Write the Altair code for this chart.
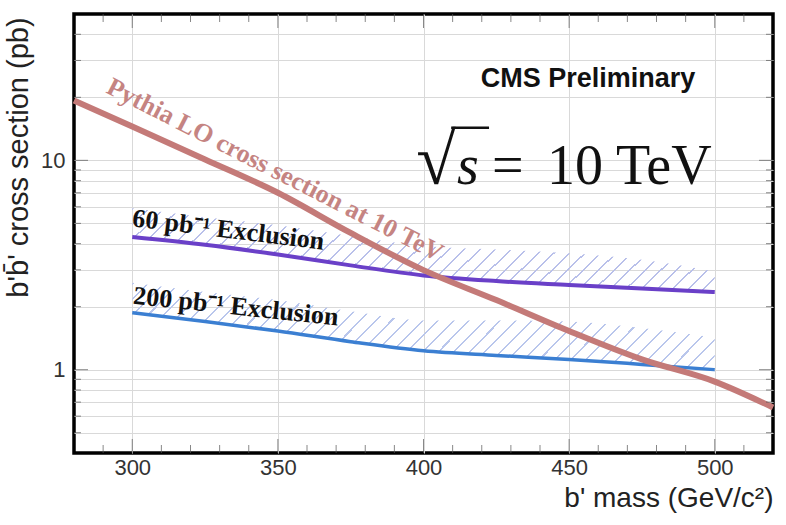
import altair as alt
import pandas as pd

# ---------------- data ----------------
mass_pythia = [280, 300, 325, 350, 375, 400, 425, 450, 475, 500, 520]
xsec_pythia = [19.3, 14.5, 10.1, 7.0, 4.5, 2.99, 2.15, 1.53, 1.12, 0.877, 0.66]

mass_excl = [300, 325, 350, 375, 400, 425, 450, 475, 500]
xsec_60 = [4.3, 3.95, 3.55, 3.15, 2.82, 2.65, 2.54, 2.44, 2.35]
hatch_top_60 = [5.9, 5.35, 4.9, 4.35, 3.9, 3.75, 3.6, 3.35, 2.95]
xsec_200 = [1.87, 1.70, 1.53, 1.36, 1.23, 1.17, 1.12, 1.06, 1.0]
hatch_top_200 = [2.6, 2.35, 2.15, 1.9, 1.72, 1.72, 1.70, 1.58, 1.42]

x_major = [300, 350, 400, 450, 500]
x_minor = [290, 310, 320, 330, 340, 360, 370, 380, 390, 410, 420, 430, 440,
           460, 470, 480, 490, 510]
y_major = [1, 10]
y_minor = [0.5, 0.6, 0.7, 0.8, 0.9, 2, 3, 4, 5, 6, 7, 8, 9, 20, 30, 40]
y_grid = [0.5, 0.6, 0.7, 0.8, 0.9, 1, 2, 3, 4, 5, 6, 7, 8, 9, 10, 20, 30, 40]

# annotation texts
label_pythia = "Pythia LO cross section at 10 TeV"
label_60 = "60 pb⁻¹ Exclusion"
label_200 = "200 pb⁻¹ Exclusion"
label_cms = "CMS Preliminary"
y_title = "b'b\u0304' cross section (pb)"
x_title = "b' mass (GeV/c²)"

W, H = 699, 439
SANS = "Liberation Sans"
SERIF = "Liberation Serif"

xscale = alt.Scale(domain=[280, 520], nice=False, zero=False)
yscale = alt.Scale(type="log", domain=[0.4, 50], nice=False)

xaxis = alt.Axis(values=x_major, format="d", grid=True, gridColor="#d9d9d9",
                 gridWidth=1, tickSize=0, domain=False,
                 labelFont=SANS, labelFontSize=22, labelColor="#333",
                 labelPadding=4, title=x_title, titleFont=SANS,
                 titleFontSize=28, titleFontWeight="normal", titleColor="#222",
                 titleAnchor="end", titlePadding=6)
yaxis = alt.Axis(values=y_grid,
                 labelExpr="datum.value == 1 ? '1' : (datum.value == 10 ? '10' : '')",
                 grid=True, gridColor="#d9d9d9", gridWidth=1, tickSize=0,
                 domain=False, labelFont=SANS, labelFontSize=22,
                 labelColor="#333", labelPadding=9, title=y_title,
                 titleFont=SANS, titleFontSize=29, titleFontWeight="normal",
                 titleColor="#222", titleX=-56, titleY=143, titleAngle=270,
                 titleAlign="center", titleBaseline="middle")


def X(field="mass"):
    return alt.X(f"{field}:Q", scale=xscale, axis=xaxis, title=x_title)


def Y(field="xsec"):
    return alt.Y(f"{field}:Q", scale=yscale, axis=yaxis, title=y_title)


def hatch(color, n=44, delta=0.003):
    clear = "rgba(255,255,255,0)"
    stops = []
    for i in range(n):
        t = i / n
        stops += [alt.GradientStop(offset=t, color=clear),
                  alt.GradientStop(offset=t, color=color),
                  alt.GradientStop(offset=t + delta, color=color),
                  alt.GradientStop(offset=t + delta, color=clear)]
    return alt.LinearGradient(gradient="linear", stops=stops,
                              x1=0, y1=0, x2=1.15, y2=0.17)


df_py = pd.DataFrame({"mass": mass_pythia, "xsec": xsec_pythia})
df_ex = pd.DataFrame({"mass": mass_excl, "x60": xsec_60, "t60": hatch_top_60,
                      "x200": xsec_200, "t200": hatch_top_200})

hatch60 = alt.Chart(df_ex).mark_area(fill=hatch("#b9c0ea"), interpolate="monotone").encode(
    x=X(), y=Y("x60"), y2="t60")
hatch200 = alt.Chart(df_ex).mark_area(fill=hatch("#b9c6ec"), interpolate="monotone").encode(
    x=X(), y=Y("x200"), y2="t200")

line60 = alt.Chart(df_ex).mark_line(color="#6a40c8", strokeWidth=4,
                                    interpolate="monotone").encode(
    x=X(), y=Y("x60"))
line200 = alt.Chart(df_ex).mark_line(color="#3b7fd2", strokeWidth=3.5,
                                     interpolate="monotone").encode(
    x=X(), y=Y("x200"))
pythia = alt.Chart(df_py).mark_line(color="#c47a78", strokeWidth=6,
                                    interpolate="monotone").encode(
    x=X(), y=Y())

# tick marks (inside the frame)
df_xmaj = pd.DataFrame({"mass": x_major})
df_xmin = pd.DataFrame({"mass": x_minor})
df_ymaj = pd.DataFrame({"xsec": y_major})
df_ymin = pd.DataFrame({"xsec": y_minor})
tcol = "#555"
ticks = [
    alt.Chart(df_xmin).mark_tick(orient="vertical", size=8, thickness=1, color=tcol)
    .encode(x=X(), y=alt.value(H - 4)),
    alt.Chart(df_xmaj).mark_tick(orient="vertical", size=14, thickness=1, color=tcol)
    .encode(x=X(), y=alt.value(H - 7)),
    alt.Chart(df_xmin).mark_tick(orient="vertical", size=8, thickness=1, color=tcol)
    .encode(x=X(), y=alt.value(4)),
    alt.Chart(df_xmaj).mark_tick(orient="vertical", size=14, thickness=1, color=tcol)
    .encode(x=X(), y=alt.value(7)),
    alt.Chart(df_ymin).mark_tick(orient="horizontal", size=7, thickness=1, color=tcol)
    .encode(y=Y(), x=alt.value(3.5)),
    alt.Chart(df_ymaj).mark_tick(orient="horizontal", size=14, thickness=1, color=tcol)
    .encode(y=Y(), x=alt.value(7)),
    alt.Chart(df_ymin).mark_tick(orient="horizontal", size=7, thickness=1, color=tcol)
    .encode(y=Y(), x=alt.value(W - 3.5)),
    alt.Chart(df_ymaj).mark_tick(orient="horizontal", size=14, thickness=1, color=tcol)
    .encode(y=Y(), x=alt.value(W - 7)),
]


def text(label, mass, xsec, **kw):
    df = pd.DataFrame({"mass": [mass], "xsec": [xsec], "label": [label]})
    return alt.Chart(df).mark_text(**kw).encode(x=X(), y=Y(), text="label:N")


texts = [
    text(label_pythia, 349, 9.0, font=SERIF, fontSize=26, fontWeight="bold",
         color="#c58482", angle=27, align="center", baseline="middle"),
    text(label_60, 333, 4.65, font=SERIF, fontSize=26, fontWeight="bold",
         color="#111", angle=7, align="center", baseline="middle"),
    text(label_200, 335.6, 2.0, font=SERIF, fontSize=26, fontWeight="bold",
         color="#111", angle=6, align="center", baseline="middle"),
    text(label_cms, 456.5, 24.5, font=SANS, fontSize=27, fontWeight="bold",
         color="#111", align="center", baseline="middle"),
    text("√", 397.5, 7.73, font=SERIF, fontSize=72, color="#111",
         align="left", baseline="alphabetic"),
    text("s", 411.5, 7.73, font=SERIF, fontSize=56, fontStyle="italic",
         color="#111", align="left", baseline="alphabetic"),
    text("=", 423.5, 7.73, font=SERIF, fontSize=56, color="#111",
         align="left", baseline="alphabetic"),
    text("10 TeV", 442.4, 7.73, font=SERIF, fontSize=56, color="#111",
         align="left", baseline="alphabetic"),
]

df_bar = pd.DataFrame({"mass": [409.5], "mass2": [422.5], "xsec": [14.3]})
overbar = alt.Chart(df_bar).mark_rule(color="#111", strokeWidth=2.5).encode(
    x=X(), x2="mass2", y=Y())

chart = alt.layer(
    hatch60, hatch200, line200, line60, pythia, *ticks, *texts, overbar
).properties(
    width=W, height=H,
    autosize=alt.AutoSizeParams(type="none"),
    padding={"left": 74, "top": 14, "right": 13, "bottom": 72},
    background="white",
).configure_view(stroke="black", strokeWidth=3.5)

chart.save("out.html", embed_options={"renderer": "svg", "actions": False})
